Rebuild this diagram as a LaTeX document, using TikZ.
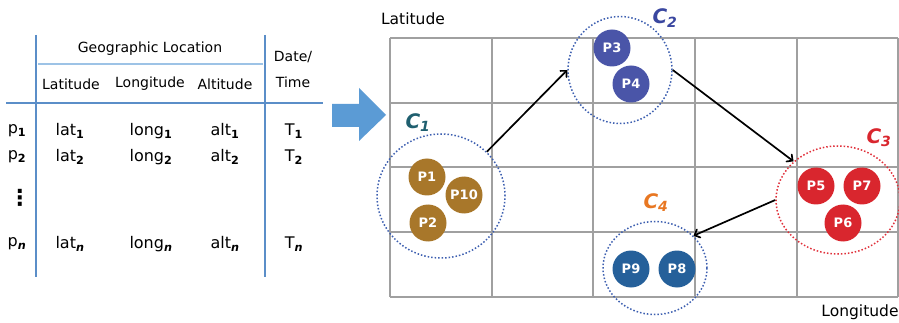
\documentclass[tikz,border=0pt]{standalone}
\usepackage{fontspec}
\setmainfont{DejaVu Sans}
\usepackage{tikz}
\usetikzlibrary{shapes.geometric}
\usetikzlibrary{arrows}
\definecolor{tblline}{HTML}{5B8EC8}
\definecolor{tbllight}{HTML}{9DC3E6}
\definecolor{bigarrow}{HTML}{5B9BD5}
\definecolor{gridgray}{HTML}{A0A0A0}
\definecolor{clblue}{HTML}{3D5FB0}
\definecolor{clred}{HTML}{E0303A}
\definecolor{gold}{HTML}{A8772A}
\definecolor{violet}{HTML}{4A55A8}
\definecolor{steel}{HTML}{25609A}
\definecolor{red}{HTML}{D9262E}
\definecolor{cteal}{HTML}{1F5F6F}
\definecolor{cblue}{HTML}{3A47A0}
\definecolor{corange}{HTML}{E87722}
\newcommand{\bsub}[1]{\textsubscript{\bfseries #1}}
\newcommand{\nsub}{\textsubscript{\bfseries\itshape n}}

\begin{document}
\begin{tikzpicture}[x=1pt, y=-1pt]
				\tikzstyle{hdnode}=[font=\fontsize{14}{16}\selectfont, inner sep=0pt]
				\tikzstyle{cellnode}=[font=\fontsize{16}{18}\selectfont, inner sep=0pt]
				\tikzstyle{axisnode}=[font=\fontsize{15.5}{17}\selectfont, inner sep=0pt]
				\tikzstyle{tline}=[draw=tblline, line width=2pt]
				\tikzstyle{gridline}=[draw=gridgray, line width=1.3pt]
				\tikzstyle{clusternode}=[ellipse, draw=clblue, dotted, line width=1.5pt, inner sep=0pt]
				\tikzstyle{pointnode}=[circle, minimum size=37pt, inner sep=0pt, text=white, font=\fontsize{13}{13}\selectfont\bfseries]
				\tikzstyle{clabel}=[font=\fontsize{20}{20}\selectfont\bfseries\itshape, inner sep=0pt]
				\tikzstyle{flow}=[->, >=angle 90, line width=1.7pt, black]
				
				\useasboundingbox (0,0) rectangle (899,323);
				
				% table
				\draw [tline] (36,35) -- (36,277);
				\draw [tline] (265,35) -- (265,277);
				\draw [tline] (6,103) -- (323,103);
				\draw [tline, draw=tbllight] (38,64) -- (263,64);
				
				\node (geo) at (150,49) [hdnode] {Geographic Location};
				\node (hlat) at (71,84) [hdnode] {Latitude};
				\node (hlong) at (150,84) [hdnode] {Longitude};
				\node (halt) at (225,84) [hdnode] {Altitude};
				\node (hdate) at (293,57) [hdnode] {Date/};
				\node (htime) at (293,82) [hdnode] {Time};
				
				\node (p1) at (17,131) [cellnode] {p\bsub{1}};
				\node (lat1) at (70,131) [cellnode] {lat\bsub{1}};
				\node (long1) at (151,131) [cellnode] {long\bsub{1}};
				\node (alt1) at (225,131) [cellnode] {alt\bsub{1}};
				\node (t1) at (294,131) [cellnode] {T\bsub{1}};
				
				\node (p2) at (17,157) [cellnode] {p\bsub{2}};
				\node (lat2) at (70,157) [cellnode] {lat\bsub{2}};
				\node (long2) at (151,157) [cellnode] {long\bsub{2}};
				\node (alt2) at (225,157) [cellnode] {alt\bsub{2}};
				\node (t2) at (294,157) [cellnode] {T\bsub{2}};
				
				\node (vdots) at (20,198) [cellnode, font=\fontsize{22}{22}\selectfont\bfseries] {⋮};
				
				\node (pn) at (17,244) [cellnode] {p\nsub};
				\node (latn) at (70,244) [cellnode] {lat\nsub};
				\node (longn) at (151,244) [cellnode] {long\nsub};
				\node (altn) at (225,244) [cellnode] {alt\nsub};
				\node (tn) at (294,244) [cellnode] {T\nsub};
				
				% big arrow
				\fill [bigarrow] (332,104) -- (359,104) -- (359,88) -- (386,115) -- (359,141) -- (359,127) -- (332,127) -- cycle;
				
				% grid
				\foreach \x in {390,492,593,695,797,898}
					\draw [gridline] (\x,38) -- (\x,297);
				\foreach \y in {38,103,167,232,297}
					\draw [gridline] (390,\y) -- (898,\y);
				
				\node (ylab) at (413,19) [axisnode] {Latitude};
				\node (xlab) at (860,312) [axisnode] {Longitude};
				
				% clusters
				\node (c1) at (441,196) [clusternode, minimum width=128pt, minimum height=124pt] {};
				\node (c2) at (620,70) [clusternode, minimum width=104pt, minimum height=107pt] {};
				\node (c3) at (838,200) [clusternode, draw=clred, minimum width=124pt, minimum height=108pt] {};
				\node (c4) at (655,268) [clusternode, minimum width=104pt, minimum height=93pt] {};
				
				\node (c1l) at (418,123) [clabel, text=cteal] {C\textsubscript{1}};
				\node (c2l) at (665,18) [clabel, text=cblue] {C\textsubscript{2}};
				\node (c3l) at (879,138) [clabel, text=red] {C\textsubscript{3}};
				\node (c4l) at (656,203) [clabel, text=corange] {C\textsubscript{4}};
				
				% points
				\node (pt1) at (427,177) [pointnode, fill=gold] {P1};
				\node (pt10) at (464,195) [pointnode, fill=gold] {P10};
				\node (pt2) at (428,223) [pointnode, fill=gold] {P2};
				\node (pt3) at (612,48) [pointnode, fill=violet] {P3};
				\node (pt4) at (631,84) [pointnode, fill=violet] {P4};
				\node (pt5) at (816,186) [pointnode, fill=red] {P5};
				\node (pt7) at (862,186) [pointnode, fill=red] {P7};
				\node (pt6) at (843,223) [pointnode, fill=red] {P6};
				\node (pt9) at (631,269) [pointnode, fill=steel] {P9};
				\node (pt8) at (677,269) [pointnode, fill=steel] {P8};
				
				\draw [flow] (c1.44) -- (c2.west);
				\draw [flow] (c2.east) -- (c3.139);
				\draw [flow] (c3.west) -- (c4.40);
				
				\end{tikzpicture}
\end{document}
